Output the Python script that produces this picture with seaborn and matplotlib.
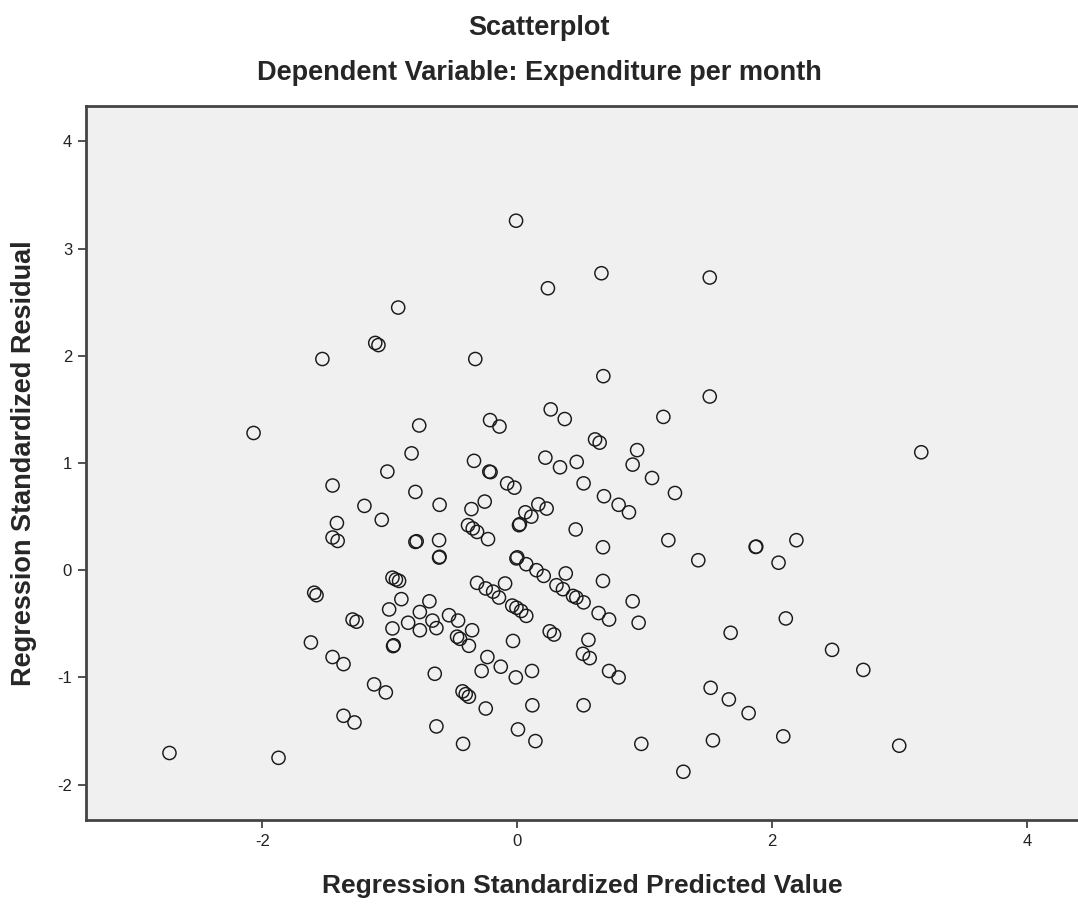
import matplotlib
matplotlib.use("Agg")
import pandas as pd
import seaborn as sns
import matplotlib.pyplot as plt

# Standardized predicted values (x) and standardized residuals (y)
pred_values = [
    -0.935, -1.115, -1.09, -1.53, -2.07, -0.83, -1.02, -1.45, -1.20, -0.77,
    -0.80, -0.01, 0.66, 1.51, 0.24, -0.33, 0.675, 1.51, 0.262, 0.372,
    1.146, -0.214, -0.14, 0.61, 0.646, 0.94, 0.905, -0.34, -0.22, -0.21,
    0.22, 0.335, 0.466, 1.057, 1.237, 0.52, 0.68, 0.795, 0.876, -0.08,
    -0.023, -0.61, -0.36, -0.256, 0.063, 0.11, 0.165, 0.23, -0.387, -0.35,
    -0.316, -0.23, 0.013, 0.02, 0.458, 0.672, 1.185, 1.42, -0.80, -0.79,
    -0.614, -0.614, -0.61, -0.007, 0.0, 0.07, 0.15, 0.207, 0.38, 0.307,
    0.358, 0.437, 0.463, 0.52, 0.672, 0.905, 0.952, 0.638, 0.72, -0.98,
    -0.953, -0.928, -0.91, -0.316, -0.248, -0.19, -0.144, -0.096, -0.04, -0.007,
    0.03, 0.07, -0.69, -0.765, -0.857, -0.765, -0.666, -0.635, -0.536, -0.465,
    -0.355, -0.473, -0.45, -0.38, -0.975, -0.97, -0.034, 0.254, 0.288, 0.558,
    0.515, 0.568, -0.235, -0.28, -0.13, -0.012, 0.115, -0.648, 0.72, 0.795,
    1.517, 1.66, 1.674, -0.43, -0.405, -0.38, -0.248, 0.118, 0.52, -0.635,
    -0.426, 0.005, 0.142, 0.973, 1.535, 1.303, -1.064, -1.416, -1.45, -1.41,
    -1.006, -0.98, -1.594, -1.576, -1.293, -1.262, -1.62, -1.45, -1.364, -1.124,
    -1.032, -1.364, -1.278, -2.73, -1.874, 1.87, 1.875, 2.19, 2.05, 2.107,
    2.47, 2.715, 1.815, 2.087, 2.997, 3.17,
]
resid_values = [
    2.45, 2.12, 2.10, 1.97, 1.28, 1.09, 0.92, 0.79, 0.60, 1.35,
    0.73, 3.26, 2.77, 2.73, 2.63, 1.97, 1.81, 1.62, 1.50, 1.41,
    1.43, 1.40, 1.34, 1.22, 1.19, 1.12, 0.985, 1.02, 0.92, 0.915,
    1.05, 0.96, 1.01, 0.86, 0.72, 0.81, 0.69, 0.61, 0.54, 0.81,
    0.77, 0.61, 0.57, 0.64, 0.54, 0.50, 0.615, 0.575, 0.42, 0.39,
    0.357, 0.29, 0.42, 0.43, 0.38, 0.214, 0.28, 0.093, 0.264, 0.27,
    0.28, 0.118, 0.125, 0.11, 0.12, 0.056, 0.0, -0.053, -0.03, -0.14,
    -0.177, -0.24, -0.255, -0.30, -0.10, -0.29, -0.49, -0.40, -0.46, -0.07,
    -0.087, -0.10, -0.27, -0.118, -0.17, -0.20, -0.255, -0.124, -0.33, -0.35,
    -0.38, -0.426, -0.29, -0.39, -0.49, -0.56, -0.47, -0.54, -0.42, -0.47,
    -0.56, -0.62, -0.64, -0.705, -0.708, -0.70, -0.66, -0.57, -0.60, -0.65,
    -0.78, -0.82, -0.81, -0.94, -0.90, -1.0, -0.94, -0.966, -0.94, -1.0,
    -1.097, -1.205, -0.584, -1.13, -1.156, -1.18, -1.29, -1.26, -1.26, -1.457,
    -1.62, -1.485, -1.594, -1.62, -1.587, -1.88, 0.47, 0.44, 0.305, 0.273,
    -0.366, -0.543, -0.21, -0.233, -0.46, -0.48, -0.674, -0.81, -0.876, -1.065,
    -1.14, -1.358, -1.42, -1.705, -1.75, 0.217, 0.22, 0.28, 0.07, -0.45,
    -0.743, -0.93, -1.333, -1.55, -1.637, 1.10,
]
x_ticks = [-2, 0, 2, 4]
y_ticks = [-2, -1, 0, 1, 2, 3, 4]

df = pd.DataFrame({"pred": pred_values, "resid": resid_values})

sns.set_style("ticks", {"axes.facecolor": "#F0F0F0"})
plt.rcParams["font.family"] = ["Liberation Sans", "DejaVu Sans"]
plt.rcParams["axes.unicode_minus"] = False

fig = plt.figure(figsize=(10.78, 9.05), dpi=100)
ax = fig.add_axes([86 / 1078, 85 / 905, 1 - 86 / 1078, (820 - 106) / 905])

sns.scatterplot(data=df, x="pred", y="resid", ax=ax, s=90,
                facecolor="none", edgecolor="#1a1a1a", linewidth=1.05)

ax.set_xlim(-3.385, 4.40)
ax.set_ylim(-2.33, 4.33)
ax.set_xticks(x_ticks)
ax.set_yticks(y_ticks)
ax.tick_params(direction="out", length=6, width=1.2, color="#333333",
               labelsize=12, labelcolor="#222222", pad=4)

for side in ["left", "bottom", "top"]:
    ax.spines[side].set_linewidth(2)
    ax.spines[side].set_color("#444444")
ax.spines["right"].set_visible(False)

ax.set_xlabel("Regression Standardized Predicted Value", fontsize=19,
              fontweight="bold")
ax.xaxis.set_label_coords(0.5, -0.092)
ax.xaxis.label.set_va("center")
ax.set_ylabel("Regression Standardized Residual", fontsize=19.5,
              fontweight="bold")
ax.yaxis.set_label_coords(-0.063, 0.5)
ax.yaxis.label.set_va("center")

fig.text(0.5, 1 - 28 / 905, "Scatterplot", ha="center", va="center",
         fontsize=19.5, fontweight="bold")
fig.text(0.5, 1 - 73 / 905, "Dependent Variable: Expenditure per month",
         ha="center", va="center", fontsize=19.5, fontweight="bold")

fig.savefig("out.png", dpi=100, facecolor="white")
